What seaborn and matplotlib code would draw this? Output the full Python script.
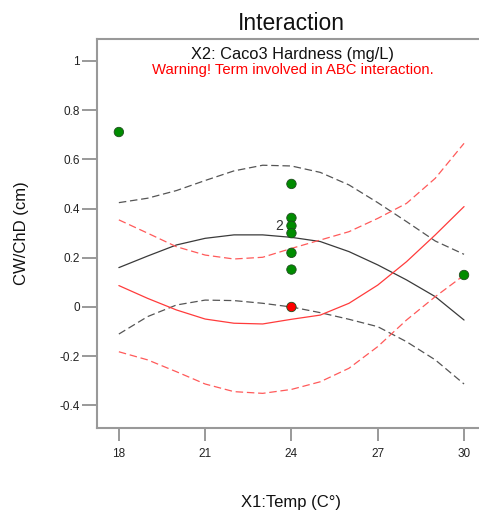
import numpy as np
import pandas as pd
import matplotlib
matplotlib.use("Agg")
import matplotlib.pyplot as plt
import seaborn as sns

# X1 temperature grid (C°)
temp = [18, 19, 20, 21, 22, 23, 24, 25, 26, 27, 28, 29, 30]

# Predicted response and 95% CI bands, X2 at its low level (black)
low_mean = [0.160, 0.207, 0.252, 0.279, 0.293, 0.293, 0.283, 0.266, 0.225, 0.171, 0.110, 0.042, -0.053]
low_upper = [0.424, 0.442, 0.473, 0.514, 0.553, 0.576, 0.573, 0.547, 0.496, 0.424, 0.347, 0.268, 0.214]
low_lower = [-0.110, -0.039, 0.008, 0.028, 0.026, 0.015, 0.000, -0.023, -0.050, -0.080, -0.141, -0.215, -0.313]

# Predicted response and 95% CI bands, X2 at its high level (red)
high_mean = [0.087, 0.035, -0.012, -0.049, -0.066, -0.069, -0.050, -0.033, 0.015, 0.089, 0.184, 0.293, 0.408]
high_upper = [0.354, 0.300, 0.245, 0.211, 0.195, 0.202, 0.238, 0.272, 0.306, 0.360, 0.421, 0.523, 0.665]
high_lower = [-0.182, -0.215, -0.263, -0.313, -0.344, -0.351, -0.335, -0.304, -0.249, -0.161, -0.053, 0.042, 0.129]

# Observed design points
obs_temp = [18, 24, 24, 24, 24, 24, 24, 30, 24]
obs_cw = [0.711, 0.50, 0.362, 0.330, 0.300, 0.220, 0.152, 0.130, 0.000]
obs_level = ["low", "low", "low", "low", "low", "low", "low", "low", "high"]

x_ticks = [18, 21, 24, 27, 30]
y_ticks = [-0.4, -0.2, 0, 0.2, 0.4, 0.6, 0.8, 1]
y_tick_labels = ["-0.4", "-0.2", "0", "0.2", "0.4", "0.6", "0.8", "1"]

sns.set_style("white")
plt.rcParams["font.family"] = ["Liberation Sans", "DejaVu Sans"]

curves = pd.DataFrame({
    "temp": temp * 6,
    "cw": low_mean + low_upper + low_lower + high_mean + high_upper + high_lower,
    "curve": (["low_mean"] * 13 + ["low_upper"] * 13 + ["low_lower"] * 13
              + ["high_mean"] * 13 + ["high_upper"] * 13 + ["high_lower"] * 13),
})
points = pd.DataFrame({"temp": obs_temp, "cw": obs_cw, "level": obs_level})

fig = plt.figure(figsize=(4.79, 5.11), dpi=100)
ax = fig.add_axes([97 / 479, 1 - 428.3 / 511, 1 - 97 / 479, (428.3 - 39) / 511])

styles = {
    "low_mean": dict(color="#3a3a3a", ls="-", lw=0.9),
    "low_upper": dict(color="#555555", ls=(0, (6, 3)), lw=0.9),
    "low_lower": dict(color="#555555", ls=(0, (6, 3)), lw=0.9),
    "high_mean": dict(color="#ff3b3b", ls="-", lw=0.9),
    "high_upper": dict(color="#ff5a5a", ls=(0, (6, 3)), lw=0.9),
    "high_lower": dict(color="#ff5a5a", ls=(0, (6, 3)), lw=0.9),
}
for name, st in styles.items():
    sns.lineplot(data=curves[curves["curve"] == name], x="temp", y="cw", ax=ax,
                 color=st["color"], linestyle=st["ls"], linewidth=st["lw"],
                 errorbar=None, sort=True, legend=False)

sns.scatterplot(data=points, x="temp", y="cw", hue="level",
                palette={"low": "#008c00", "high": "#ff0000"},
                s=46, edgecolor="#1e4d1e", linewidth=0.6, ax=ax, legend=False, zorder=5)

ax.text(23.72, 0.330, "2", ha="right", va="center", fontsize=10, color="#333333")

ax.set_xlim(17.24, 30.52)
ax.set_ylim(-0.493, 1.089)
ax.set_xticks(x_ticks)
ax.set_xticklabels([str(t) for t in x_ticks])
ax.set_yticks(y_ticks)
ax.set_yticklabels(y_tick_labels)
ax.tick_params(axis="y", direction="out", length=11, width=1.2, color="#888888",
               labelsize=8.5, labelcolor="#222222", pad=1.5, left=True)
ax.tick_params(axis="x", direction="out", length=9, width=1.2, color="#888888",
               labelsize=8.5, labelcolor="#222222", pad=5, bottom=True)
for side in ["left", "bottom", "top"]:
    ax.spines[side].set_color("#999999")
    ax.spines[side].set_linewidth(1.5)
ax.spines["right"].set_visible(False)
ax.set_xlabel("")
ax.set_ylabel("")

fig.text(291 / 479, 1 - 23 / 511, "Interaction", ha="center", va="center", fontsize=16.5, color="#111111")
fig.text(292 / 479, 1 - 54 / 511, "X2: Caco3 Hardness (mg/L)", ha="center", va="center", fontsize=11.8, color="#111111")
fig.text(293 / 479, 1 - 70 / 511, "Warning! Term involved in ABC interaction.", ha="center", va="center", fontsize=10.7, color="#ff0000")
fig.text(291 / 479, 1 - 502 / 511, "X1:Temp (C°)", ha="center", va="center", fontsize=12, color="#111111")
fig.text(22 / 479, 1 - 233 / 511, "CW/ChD (cm)", ha="center", va="center", rotation=90, fontsize=12, color="#111111")

fig.savefig("out.png", dpi=100)
